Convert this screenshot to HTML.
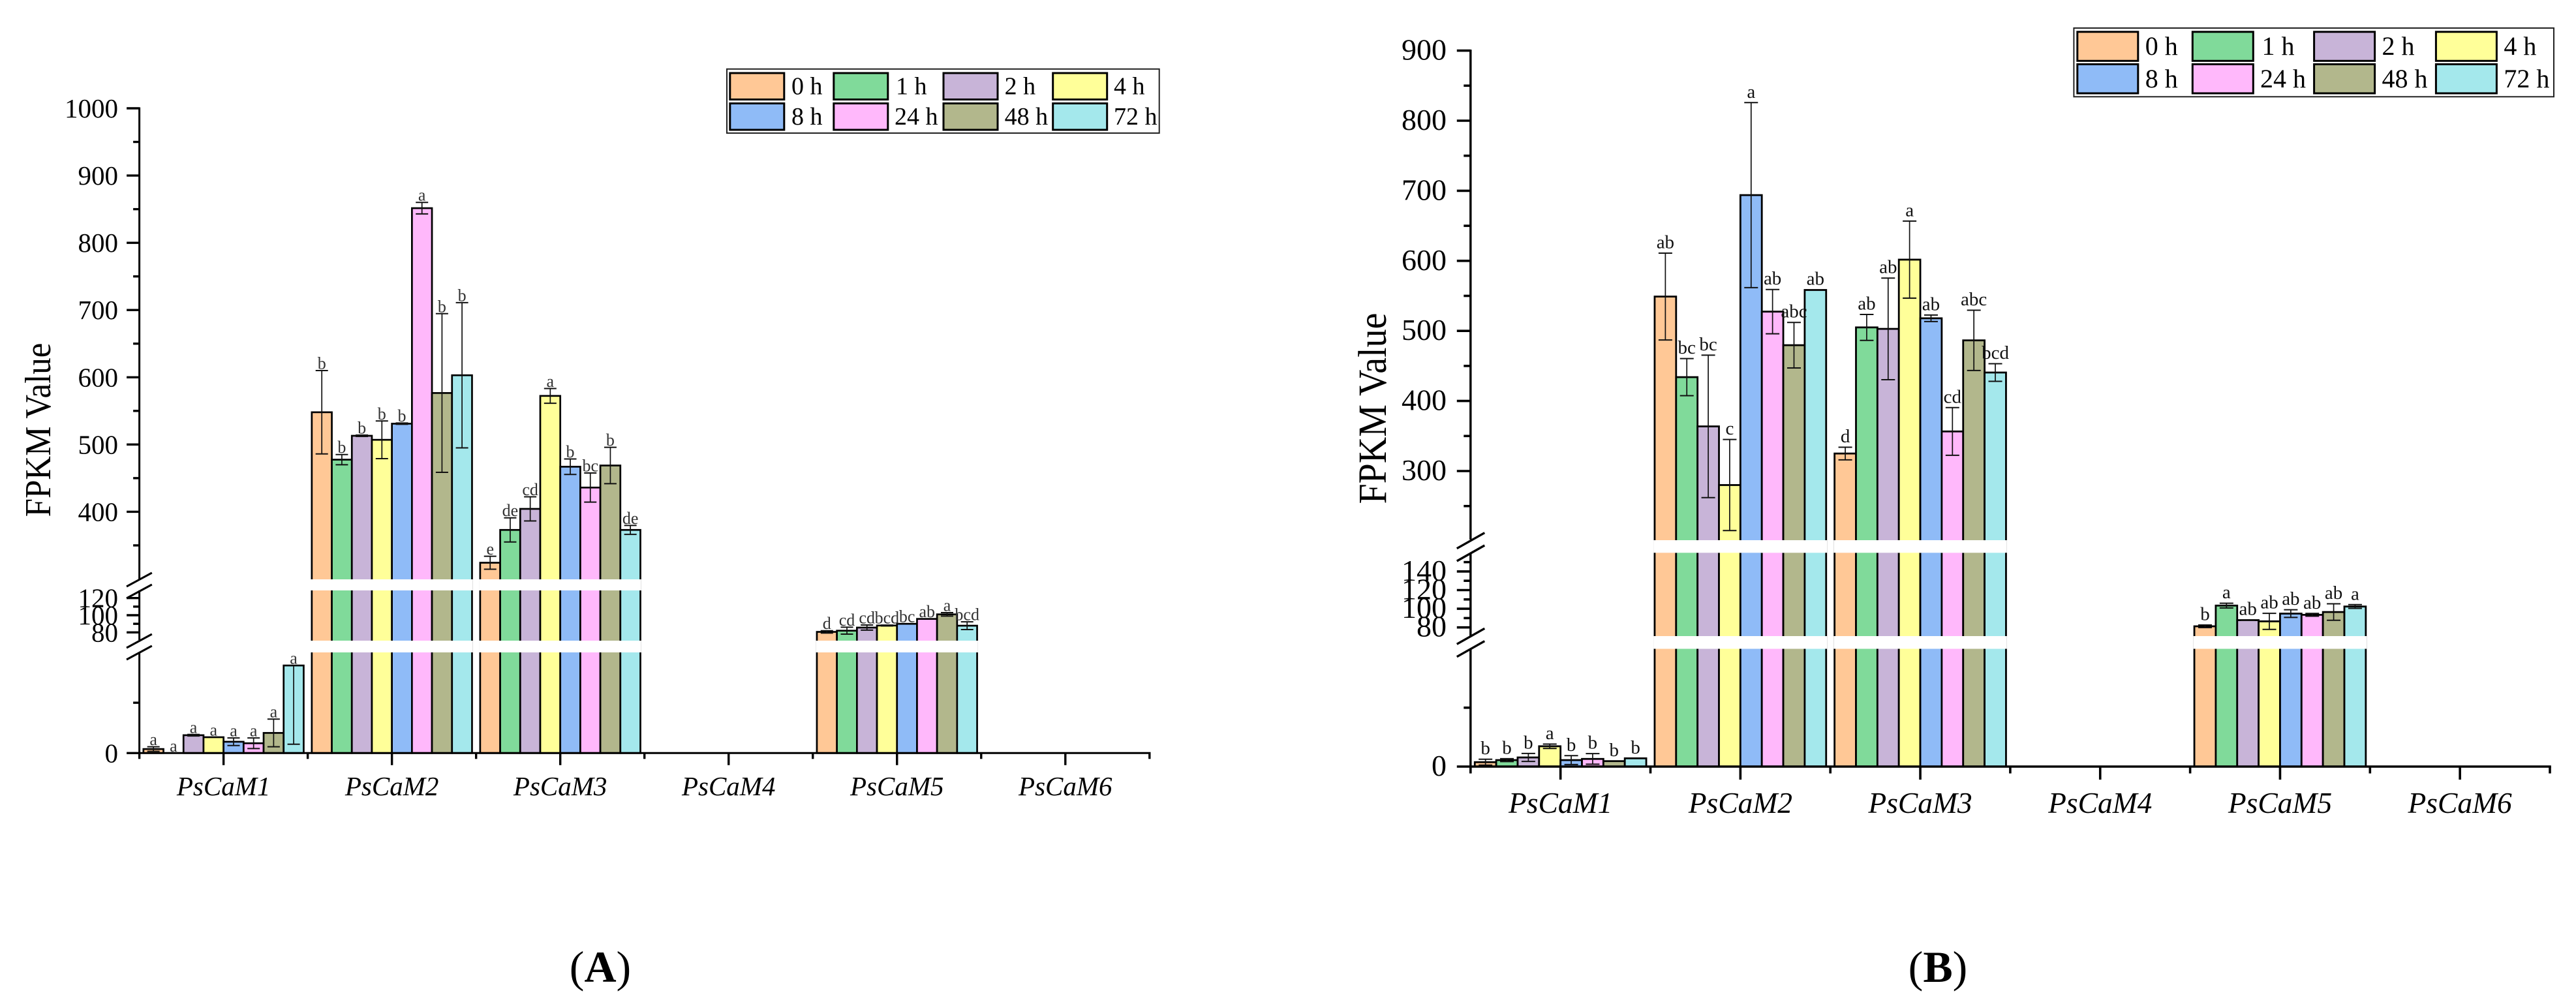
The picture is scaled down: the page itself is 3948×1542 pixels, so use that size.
<!DOCTYPE html>
<html lang="en">
<head>
<meta charset="utf-8">
<title>FPKM values of PsCaM genes</title>
<style>
html,body{margin:0;padding:0;background:#fff;}
#figure{display:block;width:3948px;height:1542px;font-family:"Liberation Serif",serif;}
</style>
</head>
<body>
<svg id="figure" xmlns="http://www.w3.org/2000/svg" width="3948" height="1542" viewBox="0 0 3948 1542"></svg>
<script>
// ---- shared categories ----
const genes = ['PsCaM1','PsCaM2','PsCaM3','PsCaM4','PsCaM5','PsCaM6'];
const hours = ['0 h','1 h','2 h','4 h','8 h','24 h','48 h','72 h'];
const hourColors = ['#FFC896','#80DA9A','#C8B4D8','#FFFF99','#8FBBF7','#FFB8FB','#B2B78C','#A4E8EC'];

// ---- panel A: values per gene, one entry per time point ----
const panelAValues = [
  [1.6,0,7.1,6.3,4.5,3.9,8,34.8],
  [548,477.5,513,507,531,851.5,576.6,603],
  [324.2,373,404.3,572.3,467,436,468.8,373],
  null,
  [80.6,82,85.6,88,90,95.7,101,87.8],
  null
];
const panelAErrors = [
  [0.9,0,0.3,0,1.5,2.1,5.5,31.3],
  [62,7.6,1,28,1,8.6,118,108],
  [9.6,18,18,11,11.5,21.6,27,6.7],
  null,
  [1.4,4,3,0.5,0,0,2,4.5],
  null
];
const panelALetters = [
  ['a','a','a','a','a','a','a','a'],
  ['b','b','b','b','b','a','b','b'],
  ['e','de','cd','a','b','bc','b','de'],
  null,
  ['d','cd','cd','bcd','bc','ab','a','bcd'],
  null
];
const panelAMajorTicks = [0,80,100,120,400,500,600,700,800,900,1000];
const panelAMinorTicks = [20,90,110,350,450,550,650,750,850,950];

// ---- panel B: values per gene, one entry per time point ----
const panelBValues = [
  [1.5,2.2,3.1,6.9,2.2,2.6,1.85,2.8],
  [549,434,363.7,280,693.8,527.5,479.6,558.4],
  [325,505,502.9,601.7,518,356.5,486.5,440.6],
  null,
  [81.2,103.4,87.8,86.5,94.8,93.5,96.5,102.4],
  null
];
const panelBErrors = [
  [1,0.5,1.35,0.75,1.5,1.8,0,0],
  [62,26.5,101.7,65,132,31.6,32.5,0.5],
  [9,18.5,72.5,55,4.7,34,43,12.6],
  null,
  [1.4,2.5,0.3,8.6,4.1,1.5,8.8,2],
  null
];
const panelBLetters = [
  ['b','b','b','a','b','b','b','b'],
  ['ab','bc','bc','c','a','ab','abc','ab'],
  ['d','ab','ab','a','ab','cd','abc','bcd'],
  null,
  ['b','a','ab','ab','ab','ab','ab','a'],
  null
];
const panelBMajorTicks = [0,80,100,120,140,300,400,500,600,700,800,900];
const panelBMinorTicks = [20,90,110,130,150,250,350,450,550,650,750,850];

const NS = 'http://www.w3.org/2000/svg';
const root = document.getElementById('figure');

function mk(parent, tag, attrs, text) {
  const el = document.createElementNS(NS, tag);
  for (const k in attrs) el.setAttribute(k, attrs[k]);
  if (text !== undefined) el.textContent = text;
  parent.appendChild(el);
  return el;
}

function makeYScale(segments) {
  return function (v) {
    for (const s of segments) {
      if (v >= s.d0 && v <= s.d1) {
        return s.r0 + (v - s.d0) * (s.r1 - s.r0) / (s.d1 - s.d0);
      }
    }
    return null;
  };
}

function drawPanel(cfg, values, errors, letters, majorTicks, minorTicks) {
  const y = makeYScale(cfg.segments);
  const step = (cfg.xEnd - cfg.xAxis) / genes.length;
  const xGene = i => cfg.xAxis + step * (i + 0.5);
  const xBar = (i, j) => xGene(i) - cfg.groupWidth / 2 + j * cfg.groupWidth / hours.length;
  const barW = cfg.groupWidth / hours.length;

  const panel = mk(root, 'g', {});
  
  

  // bars
  values.forEach((row, i) => {
    if (!row) return;
    const group = mk(panel, 'g', {});
    
    
    row.forEach((v, j) => {
      if (v <= 0) return;
      const top = y(v);
      const bar = mk(group, 'rect', {
        x: xBar(i, j), y: top, width: barW, height: y(0) - top,
        fill: hourColors[j], stroke: '#000', 'stroke-width': cfg.barStroke
      });
      
      
    });
    // white break bands over any bar crossing an axis gap
    row.forEach((v, j) => {
      if (v <= 0) return;
      cfg.gaps.forEach(g => {
        if (y(v) < g[0]) {
          const band = mk(group, 'rect', {
            x: xBar(i, j) - cfg.barStroke / 2, y: g[0],
            width: barW + cfg.barStroke, height: g[1] - g[0], fill: '#fff'
          });
          
          
        }
      });
    });
    // whiskers and letters
    row.forEach((v, j) => {
      const cx = xBar(i, j) + barW / 2;
      const e = errors[i][j];
      const top = y(v);
      const hi = y(v + e);
      const lo = y(Math.max(v - e, 0));
      let labelY = top;
      if (e > 0 && v > 0) {
        const whisker = mk(group, 'g', {});
        
        
        const yA = hi === null ? top : hi;
        const yB = lo === null ? top : lo;
        mk(whisker, 'line', {x1: cx, x2: cx, y1: yA, y2: yB, stroke: '#111', 'stroke-width': cfg.whiskerStroke});
        if (hi !== null) {
          mk(whisker, 'line', {x1: cx - cfg.capHalf, x2: cx + cfg.capHalf, y1: hi, y2: hi, stroke: '#111', 'stroke-width': cfg.capStroke});
          labelY = hi;
        }
        if (lo !== null) {
          mk(whisker, 'line', {x1: cx - cfg.capHalf, x2: cx + cfg.capHalf, y1: lo, y2: lo, stroke: '#111', 'stroke-width': cfg.capStroke});
        }
      }
      const t = mk(group, 'text', {
        x: cx, y: labelY - cfg.letterGap, 'text-anchor': 'middle',
        'font-size': cfg.letterSize, fill: cfg.letterColor
      }, letters[i][j]);
      
      
    });
  });

  // y axis segments
  const yAxis = mk(panel, 'g', {});
  
  
  cfg.axisRuns.forEach(r => {
    mk(yAxis, 'line', {x1: cfg.xAxis, x2: cfg.xAxis, y1: r[0], y2: r[1], stroke: '#000', 'stroke-width': cfg.axisStroke});
  });
  cfg.breaks.forEach(b => {
    const slash = mk(yAxis, 'line', {
      x1: cfg.xAxis - cfg.breakLeft, x2: cfg.xAxis + cfg.breakRight, y1: b, y2: b - cfg.breakRise,
      stroke: '#000', 'stroke-width': cfg.axisStroke
    });
    
    
  });
  majorTicks.forEach(v => {
    const py = y(v);
    const tick = mk(yAxis, 'line', {x1: cfg.xAxis - cfg.majorLen, x2: cfg.xAxis, y1: py, y2: py, stroke: '#000', 'stroke-width': cfg.tickStroke});
    
    
    const label = mk(yAxis, 'text', {
      x: cfg.yLabelX, y: py + 14, 'text-anchor': 'end', 'font-size': cfg.yLabelSize, fill: '#000'
    }, String(v));
    
    
  });
  minorTicks.forEach(v => {
    const py = y(v);
    const tick = mk(yAxis, 'line', {x1: cfg.xAxis - cfg.minorLen, x2: cfg.xAxis, y1: py, y2: py, stroke: '#000', 'stroke-width': cfg.tickStroke});
    
    
  });

  const title = mk(panel, 'text', {
    transform: 'translate(' + cfg.titleX + ',' + cfg.titleY + ') rotate(-90) scale(1,1.1)',
    'text-anchor': 'middle', 'font-size': cfg.titleSize, fill: '#000'
  }, 'FPKM Value');
  
  

  // x axis
  const xAxis = mk(panel, 'g', {});
  
  
  const zero = y(0);
  mk(xAxis, 'line', {x1: cfg.xAxis, x2: cfg.xEnd + cfg.tickStroke / 2, y1: zero, y2: zero, stroke: '#000', 'stroke-width': cfg.axisStroke});
  genes.forEach((g, i) => {
    const gx = xGene(i);
    const major = mk(xAxis, 'line', {x1: gx, x2: gx, y1: zero, y2: zero + cfg.xMajorLen, stroke: '#000', 'stroke-width': cfg.tickStroke});
    
    
    const label = mk(xAxis, 'text', {
      x: gx, y: cfg.xLabelY, 'text-anchor': 'middle', 'font-size': cfg.xLabelSize,
      'font-style': 'italic', fill: '#000'
    }, g);
    
    
  });
  for (let i = 0; i <= genes.length; i++) {
    const mx = cfg.xAxis + step * i;
    const minor = mk(xAxis, 'line', {x1: mx, x2: mx, y1: zero, y2: zero + cfg.xMinorLen, stroke: '#000', 'stroke-width': cfg.tickStroke});
    
    
  }

  // legend
  const legend = mk(panel, 'g', {});
  
  
  const L = cfg.legend;
  mk(legend, 'rect', {x: L.x, y: L.y, width: L.w, height: L.h, fill: '#fff', stroke: '#222', 'stroke-width': 2});
  hours.forEach((h, k) => {
    const col = k % 4, row = k < 4 ? 0 : 1;
    const entry = mk(legend, 'g', {});
    
    
    mk(entry, 'rect', {
      x: L.swatchX[col], y: L.swatchY[row], width: L.swatchW, height: L.swatchH,
      fill: hourColors[k], stroke: '#000', 'stroke-width': 3
    });
    const short = h === '1 h' ? L.oneHourShift : 0;
    const tx = mk(entry, 'text', {
      x: L.textX[col] + short, y: L.baseY[row], 'font-size': L.size, fill: '#000'
    }, h);
    
    
  });

  // panel letter
  const tag = mk(panel, 'text', {
    x: cfg.tagX, y: 1505, 'text-anchor': 'middle', 'font-size': 68, fill: '#000'
  });
  
  
  mk(tag, 'tspan', {}, '(');
  mk(tag, 'tspan', {'font-weight': 'bold'}, cfg.tag);
  mk(tag, 'tspan', {}, ')');
}

drawPanel({
  name: 'panel-a', tag: 'A', tagX: 920,
  xAxis: 213.6, xEnd: 1761.8, groupWidth: 245.6,
  segments: [
    {d0: 0, d1: 40, r0: 1154.3, r1: 1000},
    {d0: 70, d1: 130, r0: 982.5, r1: 903.5},
    {d0: 300, d1: 1000, r0: 887.5, r1: 166}
  ],
  gaps: [[888, 905], [982, 1000]],
  axisRuns: [[164.5, 888], [905, 981], [1000, 1156]],
  breaks: [899, 917, 993, 1011], breakLeft: 19.6, breakRight: 19.2, breakRise: 21,
  barStroke: 2.7, whiskerStroke: 1.7, capStroke: 2, capHalf: 9.5,
  axisStroke: 3, tickStroke: 3.4, majorLen: 19.5, minorLen: 9.5,
  xMajorLen: 18.5, xMinorLen: 9,
  letterSize: 26, letterGap: 2.5, letterColor: '#333',
  yLabelX: 181, yLabelSize: 41,
  titleX: 77, titleY: 659, titleSize: 51,
  xLabelY: 1219, xLabelSize: 41,
  legend: {
    x: 1114, y: 105.8, w: 662.7, h: 98.2,
    swatchX: [1118.8, 1277.8, 1446, 1613.7], swatchY: [112, 158.5], swatchW: 83, swatchH: 40.5,
    textX: [1213, 1371, 1539.6, 1707], baseY: [144.6, 191], size: 38, oneHourShift: 2
  }
}, panelAValues, panelAErrors, panelALetters, panelAMajorTicks, panelAMinorTicks);

drawPanel({
  name: 'panel-b', tag: 'B', tagX: 2970,
  xAxis: 2253.8, xEnd: 3908, groupWidth: 262.8,
  segments: [
    {d0: 0, d1: 40, r0: 1175, r1: 994.5},
    {d0: 70, d1: 160, r0: 976, r1: 847.3},
    {d0: 200, d1: 900, r0: 829.4, r1: 77.6}
  ],
  gaps: [[828, 847.3], [975, 994.5]],
  axisRuns: [[76, 827], [848, 975], [995, 1177]],
  breaks: [840.7, 860, 987.3, 1006.7], breakLeft: 21, breakRight: 21.5, breakRise: 24,
  barStroke: 2.8, whiskerStroke: 1.7, capStroke: 2, capHalf: 10.5,
  axisStroke: 3.4, tickStroke: 3.6, majorLen: 21, minorLen: 10.5,
  xMajorLen: 20, xMinorLen: 10.5,
  letterSize: 29, letterGap: 7.5, letterColor: '#111',
  yLabelX: 2217, yLabelSize: 46,
  titleX: 2124, titleY: 626, titleSize: 56,
  xLabelY: 1246, xLabelSize: 45.5,
  legend: {
    x: 3178.4, y: 43, w: 735.6, h: 105.3,
    swatchX: [3183.8, 3360.3, 3546.6, 3733.4], swatchY: [48.8, 98.5], swatchW: 93, swatchH: 44.5,
    textX: [3287.8, 3464, 3650.5, 3837.4], baseY: [83.9, 134], size: 40, oneHourShift: 2.5
  }
}, panelBValues, panelBErrors, panelBLetters, panelBMajorTicks, panelBMinorTicks);
</script>
</body>
</html>
